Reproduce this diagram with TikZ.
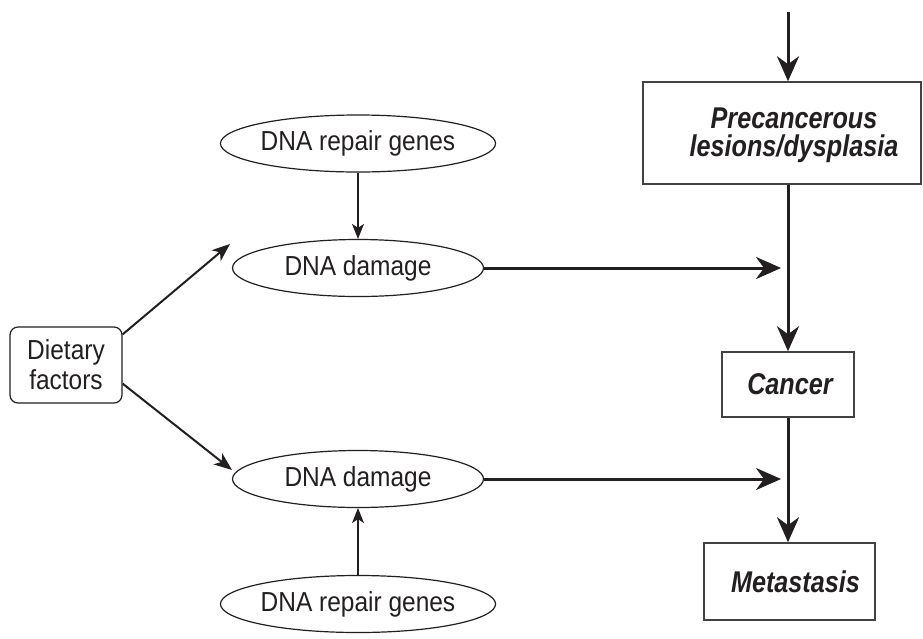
\documentclass[tikz,border=0pt]{standalone}
\usepackage{fontspec}
\setmainfont[FakeStretch=0.89]{Liberation Sans}
\newfontfamily\boldcond[FakeStretch=0.84]{Liberation Sans}
\usetikzlibrary{arrows.meta,shapes.geometric,calc}
\definecolor{ink}{HTML}{231F20}
\begin{document}
\begin{tikzpicture}[x=1pt,y=-1pt,
  font=\fontsize{27.5}{30}\selectfont,
  ell/.style={ellipse, draw=ink, line width=1.2pt, minimum width=251pt, minimum height=57pt, inner sep=0pt, text=ink},
  dbox/.style={rectangle, rounded corners=8pt, draw=ink, line width=1.2pt, inner sep=0pt, align=center, text=ink},
  rbox/.style={rectangle, draw=ink!85, line width=1.5pt, inner sep=0pt, align=center, text=ink,
    font=\boldcond\fontsize{30}{28}\selectfont\bfseries\itshape},
  rtext/.style={inner sep=0pt, align=center, text=ink,
    font=\boldcond\fontsize{30}{28}\selectfont\bfseries\itshape},
  bigarr/.style={draw=ink, line width=3pt, -{Stealth[length=25pt,width=22pt,inset=8pt]}},
  thinarr/.style={draw=ink, line width=1.3pt, -{Stealth[length=15pt,width=12pt,inset=4pt]}},
  midarr/.style={draw=ink, line width=2pt, -{Stealth[length=18pt,width=14pt,inset=5pt]}}]
\useasboundingbox[fill=white] (0,0) rectangle (923,638);

\node[ell] (rg1) at (358,143.5) {DNA repair genes};
\node[ell] (dd1) at (358,268) {DNA damage};
\node[ell] (dd2) at (358,479) {DNA damage};
\node[ell] (rg2) at (358,604) {DNA repair genes};
\node[dbox, minimum width=112pt, minimum height=76pt] (diet) at (66,365) {Dietary\\factors};

\node[rbox, minimum width=278pt, minimum height=102pt] (pre) at (782,133) {};
\node[rtext] (pretext) at (794,135) {Precancerous\\lesions/dysplasia};
\node[rbox, minimum width=132pt, minimum height=65pt] (can) at (788,384.5) {\hspace*{4pt}Cancer};
\node[rbox, minimum width=171pt, minimum height=77pt] (met) at (789.5,581.5) {\hspace*{12pt}Metastasis};

\coordinate (top) at (788,12);
\coordinate (jx) at (781,0);
\coordinate (t1) at (230,244);
\coordinate (t2) at (232,470);

\draw[bigarr] (top) -- (top |- pre.north);
\draw[bigarr] (pre.south -| can.north) -- (can.north);
\draw[bigarr] (can.south) -- (can.south |- met.north);
\draw[bigarr] (dd1.east) -- (dd1.east -| jx);
\draw[bigarr] (dd2.east) -- (dd2.east -| jx);

\draw[thinarr] (rg1.south) -- (dd1.north);
\draw[thinarr] (rg2.north) -- (dd2.south);

\draw[midarr] ($(diet.north east)+(0,8)$) -- (t1);
\draw[midarr] ($(diet.south east)+(0,-20)$) -- (t2);
\end{tikzpicture}
\end{document}
